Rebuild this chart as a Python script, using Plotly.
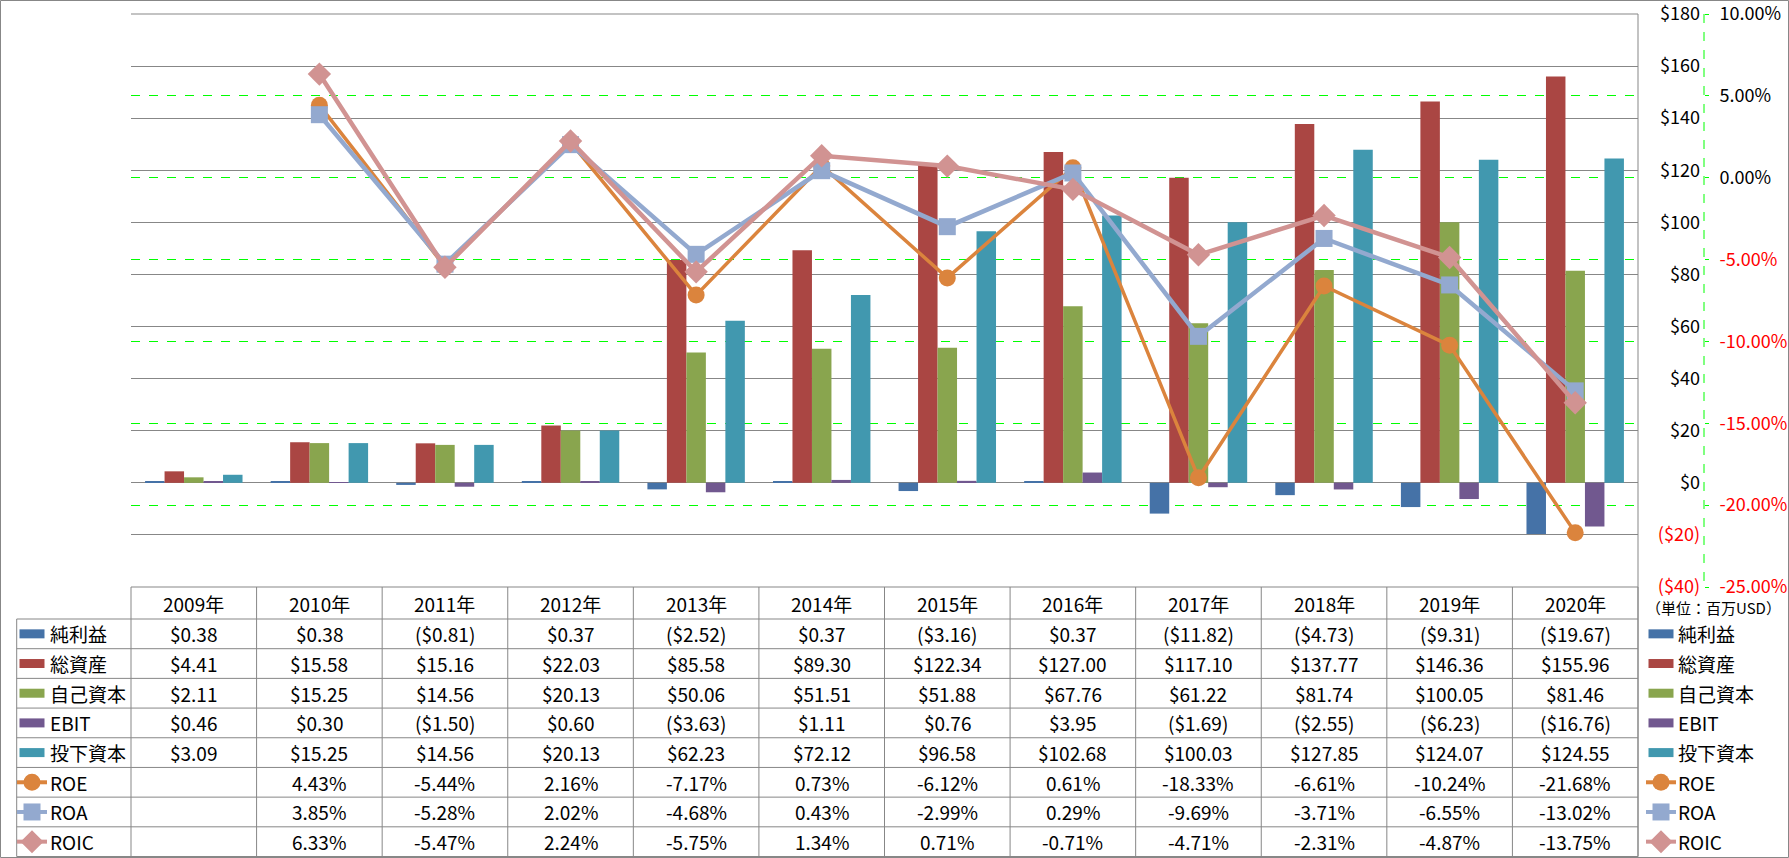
import plotly.graph_objects as go

# ---------------- data ----------------
years = ['2009年', '2010年', '2011年', '2012年', '2013年', '2014年',
         '2015年', '2016年', '2017年', '2018年', '2019年', '2020年']
net_income = [0.38, 0.38, -0.81, 0.37, -2.52, 0.37, -3.16, 0.37, -11.82, -4.73, -9.31, -19.67]
total_assets = [4.41, 15.58, 15.16, 22.03, 85.58, 89.30, 122.34, 127.00, 117.10, 137.77, 146.36, 155.96]
equity = [2.11, 15.25, 14.56, 20.13, 50.06, 51.51, 51.88, 67.76, 61.22, 81.74, 100.05, 81.46]
ebit = [0.46, 0.30, -1.50, 0.60, -3.63, 1.11, 0.76, 3.95, -1.69, -2.55, -6.23, -16.76]
invested = [3.09, 15.25, 14.56, 20.13, 62.23, 72.12, 96.58, 102.68, 100.03, 127.85, 124.07, 124.55]
roe = [None, 4.43, -5.44, 2.16, -7.17, 0.73, -6.12, 0.61, -18.33, -6.61, -10.24, -21.68]
roa = [None, 3.85, -5.28, 2.02, -4.68, 0.43, -2.99, 0.29, -9.69, -3.71, -6.55, -13.02]
roic = [None, 6.33, -5.47, 2.24, -5.75, 1.34, 0.71, -0.71, -4.71, -2.31, -4.87, -13.75]

usd_ticks = [-40, -20, 0, 20, 40, 60, 80, 100, 120, 140, 160, 180]
pct_ticks = [-25, -20, -15, -10, -5, 0, 5, 10]
unit_label = '（単位：百万USD）'

bar_series = [('純利益', net_income, '#4572A7'),
              ('総資産', total_assets, '#AA4643'),
              ('自己資本', equity, '#89A54E'),
              ('EBIT', ebit, '#71588F'),
              ('投下資本', invested, '#4198AF')]
line_series = [('ROE', roe, '#DB843D', 'circle', 17, 3.5),
               ('ROA', roa, '#93A9CF', 'square', 17, 4.5),
               ('ROIC', roic, '#D19392', 'diamond', 18, 4.5)]

# ---------------- geometry ----------------
W, H = 1789, 858
FONT = 'Noto Sans CJK JP'
FS = 19
TFS = 18
def px(x): return x / W
def py(y): return 1 - y / H

X0, X1 = 131, 1638          # plot / table columns
Y_TOP, Y_BOT = 14, 587      # plot area
HDR_BOT = 619
ROW_H = (856.5 - HDR_BOT) / 8
GRID = '#878787'

def money(v):
    return f'${v:,.2f}' if v >= 0 else f'(${-v:,.2f})'

def pct(v):
    return '' if v is None else f'{v:.2f}%'

fig = go.Figure()
for name, vals, col in bar_series:
    fig.add_trace(go.Bar(x=years, y=vals, name=name, marker=dict(color=col, line=dict(width=0)),
                         yaxis='y', xaxis='x'))
for name, vals, col, sym, ms, lw in line_series:
    fig.add_trace(go.Scatter(x=years, y=vals, name=name, mode='lines+markers', yaxis='y2',
                             line=dict(color=col, width=lw),
                             marker=dict(symbol=sym, size=ms, color=col, line=dict(width=0))))

usd_text = [(f'${t}' if t >= 0 else f'<span style="color:#FF0000">(${-t})</span>') for t in usd_ticks]
pct_text = [(f'{t:.2f}%' if t >= 0 else f'<span style="color:#FF0000">{t:.2f}%</span>') for t in pct_ticks]

shapes = []
annotations = []

def hline(y, xa, xb, color=GRID, width=1, dash='solid'):
    shapes.append(dict(type='line', xref='paper', yref='paper', x0=px(xa), x1=px(xb),
                       y0=py(y), y1=py(y), line=dict(color=color, width=width, dash=dash)))

def vline(x, ya, yb, color=GRID, width=1, dash='solid'):
    shapes.append(dict(type='line', xref='paper', yref='paper', x0=px(x), x1=px(x),
                       y0=py(ya), y1=py(yb), line=dict(color=color, width=width, dash=dash)))

# outer border
shapes.append(dict(type='rect', xref='paper', yref='paper', x0=px(0.5), x1=px(1788.5),
                   y0=py(857.5), y1=py(0.5), line=dict(color=GRID, width=1)))
# top boundary, right axis line (primary) and dashed secondary axis line
hline(Y_TOP, X0, X1)
vline(X1, Y_TOP, 856.5)
vline(1704, Y_TOP, Y_BOT, color='#00FF00', dash='dash')

# table grid
ncol = len(years)
cw = (X1 - X0) / ncol
hline(Y_BOT, X0, X1)
for r in range(9):
    hline(HDR_BOT + r * ROW_H, 16.7, X1)
vline(16.7, HDR_BOT, 856.5)
for c in range(ncol + 1):
    vline(X0 + c * cw, Y_BOT, 856.5)

# header
for yr in years:
    annotations.append(dict(x=yr, xref='x', y=py((Y_BOT + HDR_BOT) / 2), yref='paper', text=yr,
                            showarrow=False, xanchor='center', yanchor='middle',
                            font=dict(family=FONT, size=FS, color='black')))

rows = [(n, [money(v) for v in vals], ('bar', col, None, None)) for n, vals, col in bar_series] + \
       [(n, [pct(v) for v in vals], ('line', col, sym, ms)) for n, vals, col, sym, ms, lw in line_series]

def key(xc, yc, kind, col, sym, ms):
    if kind == 'bar':
        shapes.append(dict(type='rect', xref='paper', yref='paper', x0=px(xc - 12.5), x1=px(xc + 12.5),
                           y0=py(yc + 4.5), y1=py(yc - 4.5), fillcolor=col, line=dict(width=0)))
    else:
        shapes.append(dict(type='line', xref='paper', yref='paper', x0=px(xc - 15), x1=px(xc + 15),
                           y0=py(yc), y1=py(yc), line=dict(color=col, width=4)))
        if sym == 'circle':
            r = 8.5
            shapes.append(dict(type='circle', xref='paper', yref='paper', x0=px(xc - r), x1=px(xc + r),
                               y0=py(yc + r), y1=py(yc - r), fillcolor=col, line=dict(width=0)))
        elif sym == 'square':
            r = 8.5
            shapes.append(dict(type='rect', xref='paper', yref='paper', x0=px(xc - r), x1=px(xc + r),
                               y0=py(yc + r), y1=py(yc - r), fillcolor=col, line=dict(width=0)))
        else:
            r = 11.5
            path = (f'M {px(xc - r)} {py(yc)} L {px(xc)} {py(yc - r)} '
                    f'L {px(xc + r)} {py(yc)} L {px(xc)} {py(yc + r)} Z')
            shapes.append(dict(type='path', xref='paper', yref='paper', path=path,
                               fillcolor=col, line=dict(width=0)))

for i, (name, texts, (kind, col, sym, ms)) in enumerate(rows):
    yc = HDR_BOT + (i + 0.5) * ROW_H
    for yr, t in zip(years, texts):
        if t:
            annotations.append(dict(x=yr, xref='x', y=py(yc), yref='paper', text=t, showarrow=False,
                                    xanchor='center', yanchor='middle',
                                    font=dict(family=FONT, size=FS, color='black')))
    # left legend column
    key(32, yc, kind, col, sym, ms)
    annotations.append(dict(x=px(48), xref='paper', y=py(yc), yref='paper', text=name, showarrow=False,
                            xanchor='left', yanchor='middle', font=dict(family=FONT, size=FS, color='black')))
    # right legend
    key(1661, yc, kind, col, sym, ms)
    annotations.append(dict(x=px(1676), xref='paper', y=py(yc), yref='paper', text=name, showarrow=False,
                            xanchor='left', yanchor='middle', font=dict(family=FONT, size=FS, color='black')))

annotations.append(dict(x=px(1713), xref='paper', y=py(607), yref='paper', text=unit_label, showarrow=False,
                        xanchor='center', yanchor='middle', font=dict(family=FONT, size=15, color='black')))

fig.update_layout(
    width=W, height=H, margin=dict(l=0, r=0, t=0, b=0, autoexpand=False),
    paper_bgcolor='white', plot_bgcolor='white', showlegend=False,
    barmode='group', bargap=0.224, bargroupgap=0,
    font=dict(family=FONT, size=FS, color='black'),
    xaxis=dict(type='category', domain=[px(X0), px(X1)], range=[-0.5, 11.5], automargin=False,
               showticklabels=False, showgrid=False, zeroline=False, showline=False, ticks=''),
    yaxis=dict(domain=[py(Y_BOT), py(Y_TOP)], range=[-40.001, 180.001], tickvals=usd_ticks, ticktext=usd_text,
               anchor='free', position=px(1700), side='left', showline=False, ticks='',
               ticklabeloverflow='allow', automargin=False,
               showgrid=True, gridcolor=GRID, gridwidth=1, zeroline=False,
               tickfont=dict(family=FONT, size=TFS, color='black')),
    yaxis2=dict(overlaying='y', range=[-25.0001, 10.0001], tickvals=pct_ticks, ticktext=pct_text,
                anchor='free', position=px(1704), side='right', showline=False,
                ticks='outside', ticklen=4, tickcolor='#00FF00', ticklabelstandoff=7,
                ticklabeloverflow='allow', automargin=False,
                showgrid=True, gridcolor='#00FF00', gridwidth=1, griddash='dash', zeroline=False,
                tickfont=dict(family=FONT, size=TFS, color='black')),
    shapes=shapes, annotations=annotations,
)

fig.write_html('out.html')
